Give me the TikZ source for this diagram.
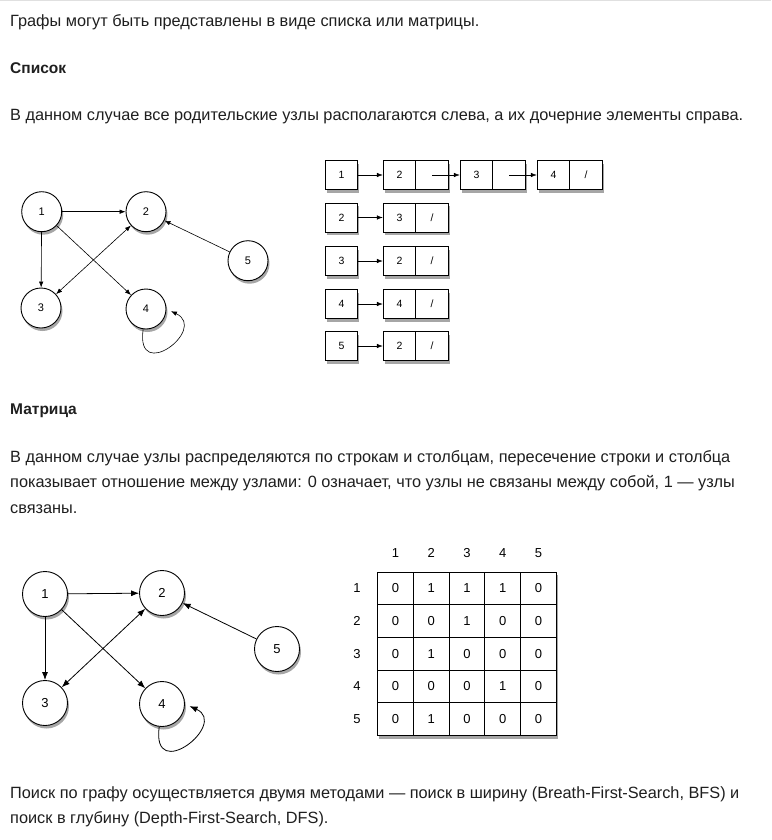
\documentclass[tikz,border=0pt]{standalone}
\usepackage{fontspec}
\setmainfont{Liberation Sans}
\usetikzlibrary{arrows.meta}

\begin{document}
\begin{tikzpicture}[x=1pt,y=-1pt,
	txt/.style={anchor=base west,inner sep=0pt,text=black!88,font=\fontsize{16.3}{19}\selectfont},
	head/.style={txt,font=\fontsize{15.5}{19}\selectfont\bfseries},
	shadowed/.style={preaction={fill=black!35,transform canvas={shift={(1.5pt,-3pt)}}}},
	vertex/.style={draw,circle,fill=white,shadowed,minimum size=40pt,inner sep=0pt,line width=0.9pt,font=\fontsize{11}{13}\selectfont},
	bigvertex/.style={vertex,minimum size=45pt,font=\fontsize{13}{15}\selectfont},
	cell/.style={draw,fill=white,shadowed,minimum width=32.5pt,minimum height=29pt,inner sep=0pt,line width=0.8pt,font=\fontsize{10.5}{12}\selectfont},
	mcell/.style={draw,minimum width=35.75pt,minimum height=32.7pt,inner sep=0pt,line width=0.9pt,font=\fontsize{13}{15}\selectfont},
	mlabel/.style={inner sep=0pt,font=\fontsize{13}{15}\selectfont},
	>={Latex[length=6pt,width=4.5pt]}
	]
	\useasboundingbox[fill=white] (0,0) rectangle (771,840);
	\draw[black!12,line width=1.5pt] (0,0.75) -- (771,0.75);

	% text
	\node[txt] (intro) at (10,26.5) {Графы могут быть представлены в виде списка или матрицы.};
	\node[head] (listhead) at (10,74) {Список};
	\node[txt] (listtext) at (10,120.7) {В данном случае все родительские узлы располагаются слева, а их дочерние элементы справа.};
	\node[head] (mathead) at (10,414) {Матрица};
	\node[txt] (mattext1) at (10,462) {В данном случае узлы распределяются по строкам и столбцам, пересечение строки и столбца};
	\node[txt] (mattext2) at (10,487.5) {показывает отношение между узлами: 0 означает, что узлы не связаны между собой, 1 — узлы};
	\node[txt] (mattext3) at (10,513) {связаны.};
	\node[txt] (search1) at (10,798) {Поиск по графу осуществляется двумя методами — поиск в ширину (Breath-First-Search, BFS) и};
	\node[txt] (search2) at (10,823.5) {поиск в глубину (Depth-First-Search, DFS).};

	% graph for the list
	\node[vertex] (A) at (41.7,211.7) {1};
	\node[vertex] (B) at (146,211.7) {2};
	\node[vertex] (C) at (41,308) {3};
	\node[vertex] (D) at (146,309) {4};
	\node[vertex] (E) at (248,260.7) {5};

	\draw [->, line width=0.6pt] (A) edge (B);
	\draw [->, line width=0.6pt] (A) edge (C);
	\draw [->, line width=0.6pt] (A) edge (D);
	\draw [<->, line width=0.6pt] (C) edge (B);
	\draw [->, line width=0.6pt] (E) edge (B);
	\draw [->, line width=0.6pt, shorten >=5pt] (D.-98) .. controls +(-8,55) and +(42,20) .. (D.east);

	% list
	\node[cell] (L1) at (341.5,175) {1};
	\node[cell] (L1-a) at (399.5,175) {2};
	\node[cell] (L1-b) at (432,175) {};
	\node[cell] (L1-c) at (476.5,175) {3};
	\node[cell] (L1-d) at (509,175) {};
	\node[cell] (L1-e) at (553.5,175) {4};
	\node[cell] (L1-f) at (586,175) {/};
	\draw [->, line width=0.7pt] (L1) -- (L1-a);
	\draw [->, line width=0.7pt] (L1-b.center) -- (L1-c.west);
	\draw [->, line width=0.7pt] (L1-d.center) -- (L1-e.west);
	\foreach \i/\v/\y in {2/3/217.5, 3/2/261, 4/4/304, 5/2/346} {
		\node[cell] (L\i) at (341.5,\y) {\i};
		\node[cell] (L\i-a) at (399.5,\y) {\v};
		\node[cell] (L\i-b) at (432,\y) {/};
		\draw [->, line width=0.7pt] (L\i) -- (L\i-a);
	}

	% graph for the matrix
	\begin{scope}[>={Latex[length=8pt,width=6pt]}]
	\node[bigvertex] (P) at (45,594) {1};
	\node[bigvertex] (Q) at (162,593) {2};
	\node[bigvertex] (R) at (45,703) {3};
	\node[bigvertex] (S) at (162,704) {4};
	\node[bigvertex] (T) at (277,649) {5};

	\draw [->, line width=0.8pt] (P) edge (Q);
	\draw [->, line width=0.8pt] (P) edge (R);
	\draw [->, line width=0.8pt] (P) edge (S);
	\draw [<->, line width=0.8pt] (R) edge (Q);
	\draw [->, line width=0.8pt] (T) edge (Q);
	\draw [->, line width=0.8pt, shorten >=5pt] (S.-97) .. controls +(-8,58) and +(44,20) .. (S.east);
	\end{scope}

	% matrix
	\node[draw,fill=white,shadowed,minimum width=178.75pt,minimum height=163.5pt,line width=0.9pt] (mat) at (466.9,653.75) {};
	\foreach \r [count=\i] in {{0,1,1,1,0},{0,0,1,0,0},{0,1,0,0,0},{0,0,0,1,0},{0,1,0,0,0}} {
		\node[mlabel] (row\i) at (357,{555.65+32.7*\i}) {\i};
		\node[mlabel] (col\i) at ({359.625+35.75*\i},553) {\i};
		\foreach \v [count=\j] in \r
			\node[mcell] (m\i\j) at ({359.625+35.75*\j},{555.65+32.7*\i}) {\v};
	}
\end{tikzpicture}
\end{document}
